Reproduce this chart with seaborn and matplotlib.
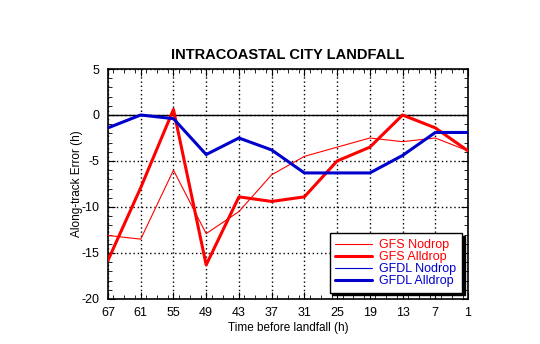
import matplotlib
matplotlib.use("Agg")
import matplotlib.pyplot as plt
import seaborn as sns
import pandas as pd
from matplotlib.ticker import MultipleLocator

hours = [67, 61, 55, 49, 43, 37, 31, 25, 19, 13, 7, 1]
gfs_nodrop = [-13.1, -13.5, -6.0, -12.9, -10.5, -6.5, -4.5, -3.5, -2.5, -2.9, -2.5, -3.9]
gfs_alldrop = [-15.8, -7.9, 0.6, -16.3, -8.9, -9.4, -8.9, -5.0, -3.5, 0.0, -1.4, -3.9]
gfdl_nodrop = [-1.4, 0.0, -0.4, -4.3, -2.5, -3.8, -6.3, -6.3, -6.3, -4.4, -1.9, -1.9]
gfdl_alldrop = [-1.4, 0.0, -0.4, -4.3, -2.5, -3.8, -6.3, -6.3, -6.3, -4.4, -1.9, -1.9]
xticks = [67, 61, 55, 49, 43, 37, 31, 25, 19, 13, 7, 1]
yticks = [5, 0, -5, -10, -15, -20]

sns.set_style("white")
plt.rcParams['font.family'] = ['Liberation Sans', 'DejaVu Sans']
plt.rcParams['axes.unicode_minus'] = False
plt.rcParams['text.color'] = 'black'
plt.rcParams['axes.labelcolor'] = 'black'
plt.rcParams['xtick.color'] = 'black'
plt.rcParams['ytick.color'] = 'black'

fig = plt.figure(figsize=(5.4, 3.44), dpi=100)
ax = fig.add_axes([0.2, 0.131, 0.6667, 0.6684])

series = [
    ("GFS Nodrop", gfs_nodrop, "#ff0000", 0.8),
    ("GFS Alldrop", gfs_alldrop, "#ff0000", 2.2),
    ("GFDL Nodrop", gfdl_nodrop, "#0000cc", 0.8),
    ("GFDL Alldrop", gfdl_alldrop, "#0000cc", 2.2),
]

for name, vals, col, lw in series:
    df = pd.DataFrame({"h": hours, "v": vals})
    sns.lineplot(data=df, x="h", y="v", ax=ax, color=col, linewidth=lw, label=name,
                 zorder=3)

ax.axhline(0, color="black", linewidth=1.0, zorder=2)
ax.set_xlim(67, 1)
ax.set_ylim(-20, 5)
ax.set_xticks(xticks)
ax.set_yticks(yticks)
ax.xaxis.set_minor_locator(MultipleLocator(2))
ax.yaxis.set_minor_locator(MultipleLocator(1))
ax.grid(True, which="major", color="black", linestyle=(0, (1, 2)), linewidth=1.0)
ax.tick_params(which="both", direction="in", top=True, right=True, bottom=True, left=True,
               color="black", labelcolor="black", labelsize=9, pad=6)
ax.tick_params(which="major", length=5)
ax.tick_params(which="minor", length=3)
for s in ax.spines.values():
    s.set_color("black")
    s.set_linewidth(1.2)

ax.set_xlabel("Time before landfall (h)", fontsize=8.5, labelpad=2, color="black")
ax.set_ylabel("Along-track Error (h)", fontsize=8.5, labelpad=-1, color="black")
ax.set_title("INTRACOASTAL CITY LANDFALL", fontsize=10.5, fontweight="bold", pad=7,
             color="black")

leg = ax.legend(loc="lower right", fontsize=9, frameon=True, fancybox=False,
                shadow={"color": "black", "alpha": 1.0},
                handlelength=2.9, borderpad=0.45, labelspacing=0.0, handletextpad=0.6,
                borderaxespad=0.5)
leg.get_frame().set_edgecolor("black")
leg.get_frame().set_linewidth(1.0)
for t, (_, _, col, _) in zip(leg.get_texts(), series):
    t.set_color(col)

fig.savefig("out.png", dpi=100)
